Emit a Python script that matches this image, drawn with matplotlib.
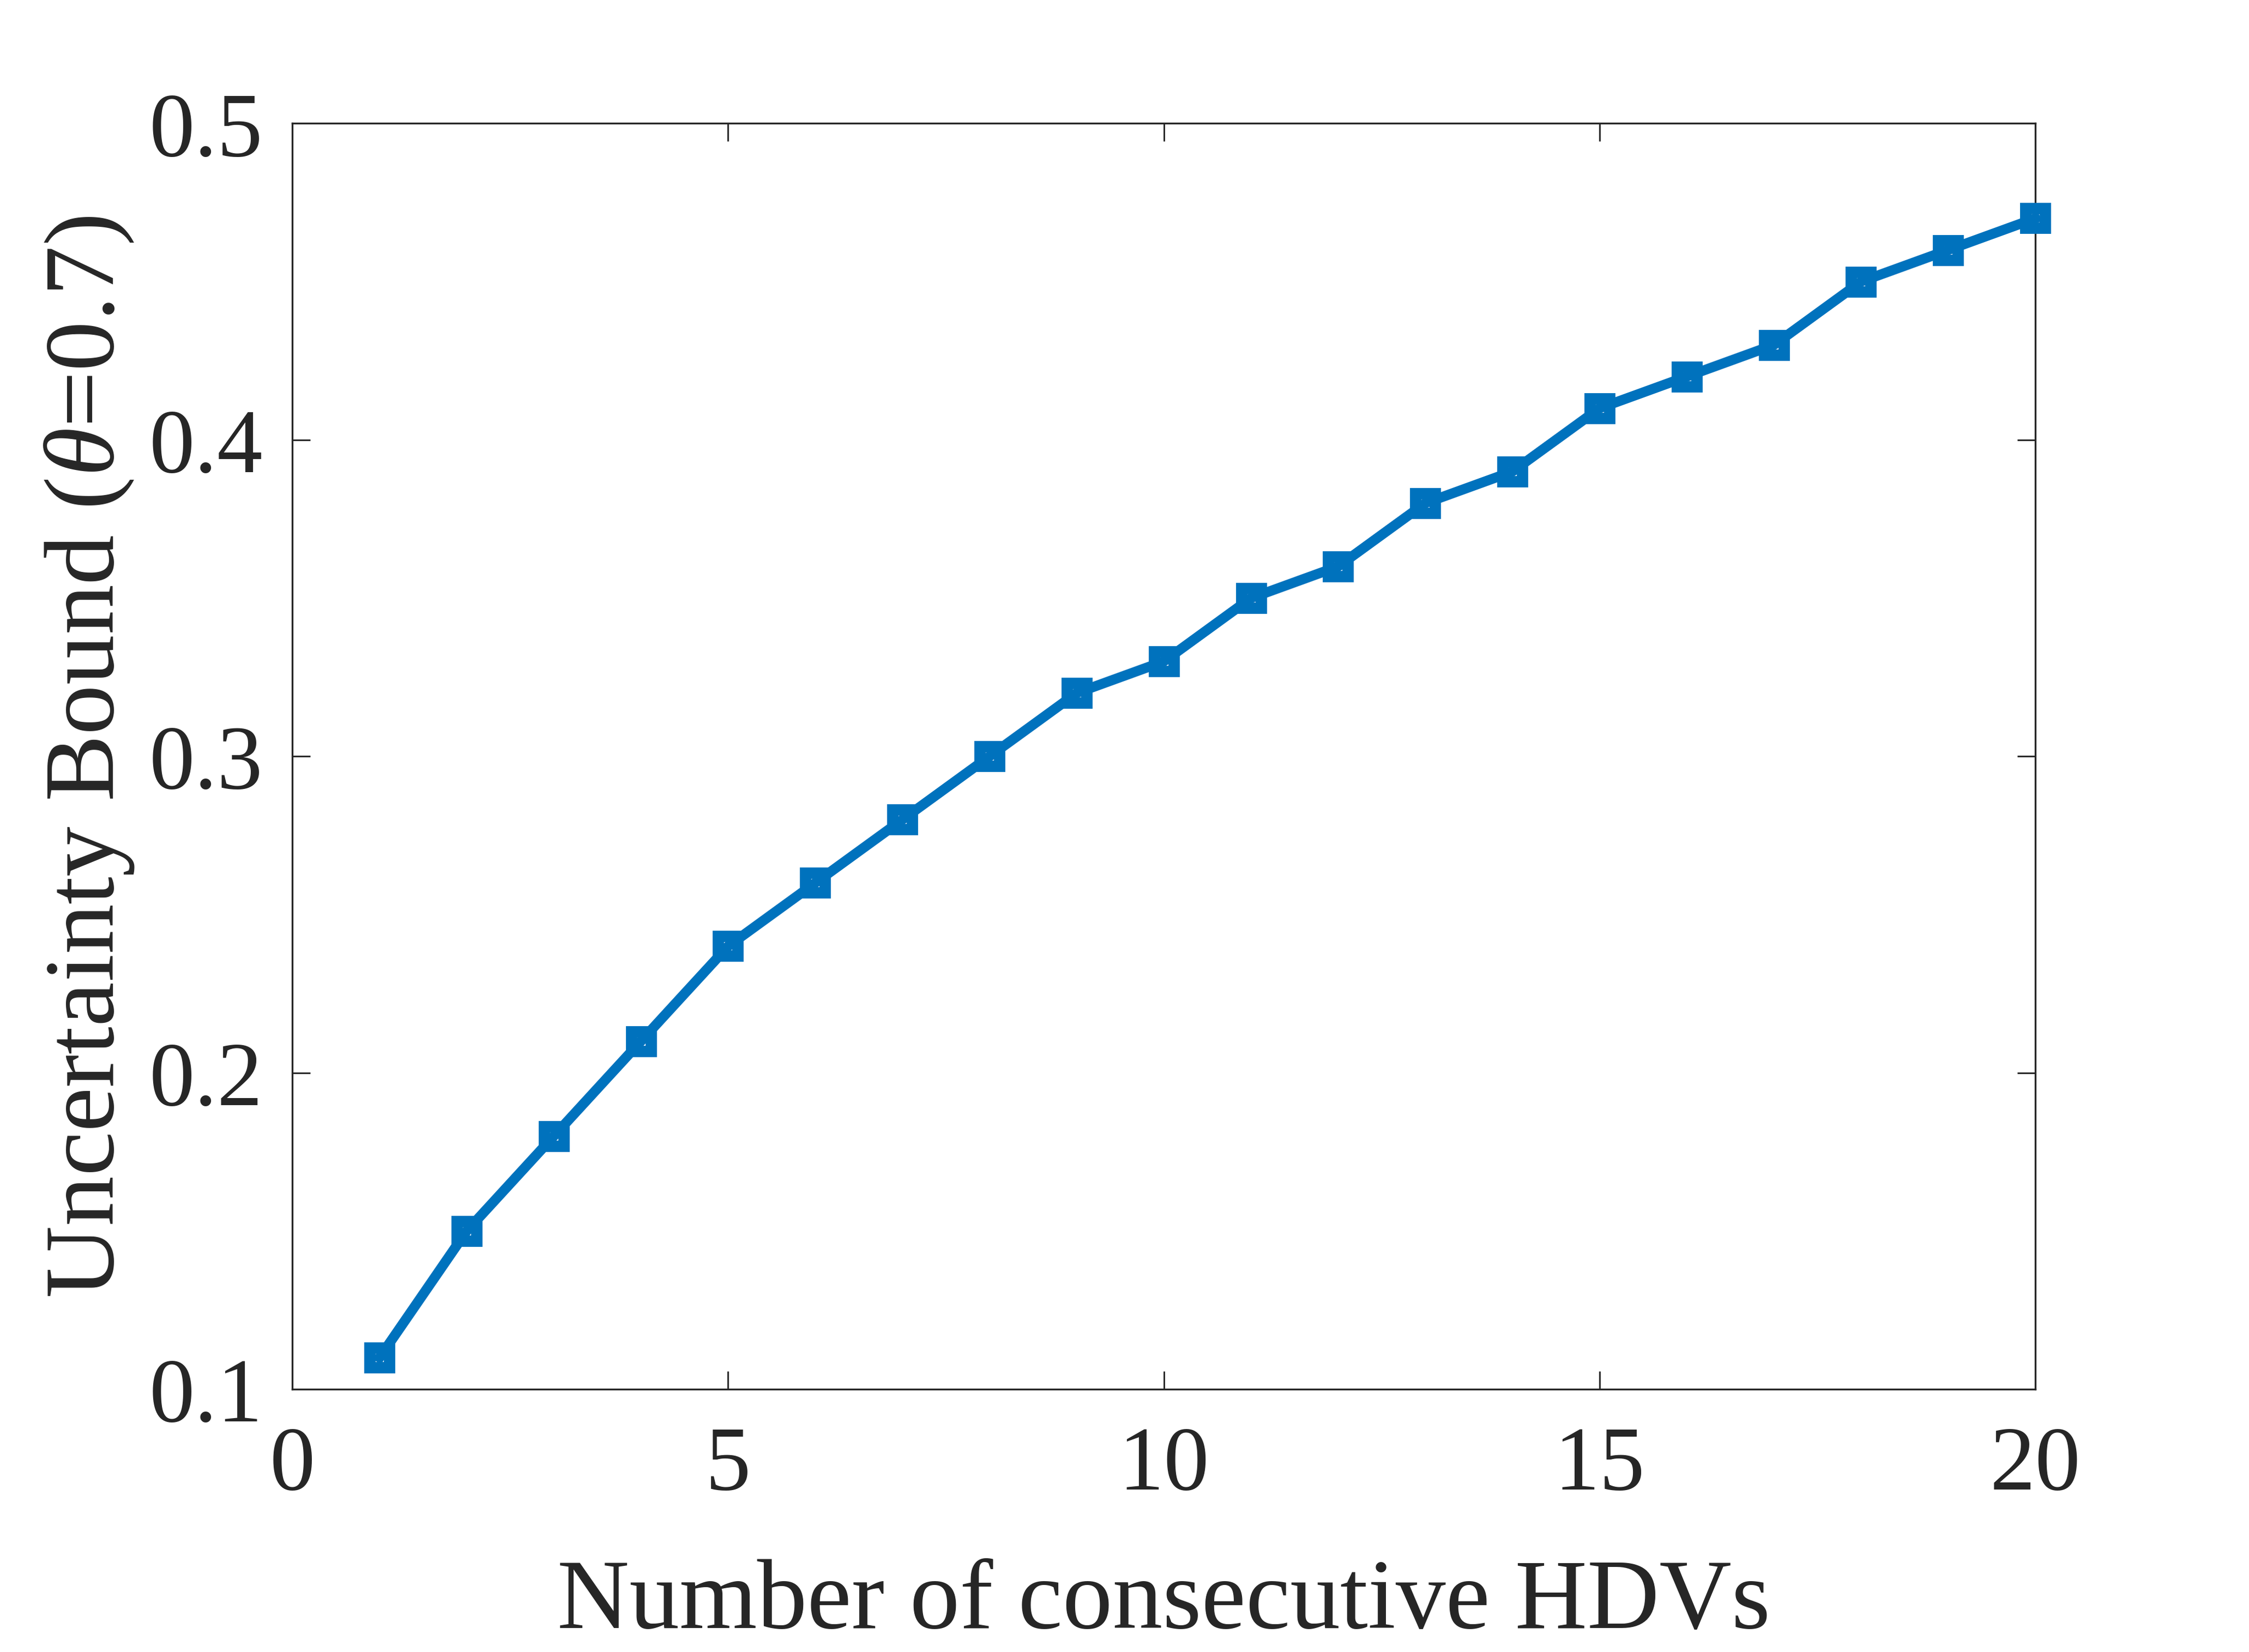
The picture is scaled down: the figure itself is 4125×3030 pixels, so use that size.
import matplotlib
matplotlib.use("Agg")
import matplotlib.pyplot as plt

# Données
n_hdv = list(range(1, 21))
bound = [0.11, 0.15, 0.18, 0.21, 0.24, 0.26, 0.28, 0.30, 0.32, 0.33,
         0.35, 0.36, 0.38, 0.39, 0.41, 0.42, 0.43, 0.45, 0.46, 0.47]
x_ticks = [0, 5, 10, 15, 20]
y_ticks = [0.1, 0.2, 0.3, 0.4, 0.5]

plt.rcParams["font.family"] = ["Liberation Serif", "DejaVu Serif"]
plt.rcParams["mathtext.fontset"] = "custom"
plt.rcParams["mathtext.rm"] = "Liberation Serif"
plt.rcParams["mathtext.it"] = "Liberation Serif:italic"

txt = "#262626"
fig = plt.figure(figsize=(13.75, 10.1033), dpi=300)
ax = fig.add_axes([0.130, 0.159, 0.775, 0.766])

ax.plot(n_hdv, bound, color="#0072BD", linewidth=4.4, marker="s",
        markersize=8.8, markeredgewidth=5.0, markerfacecolor="none",
        markeredgecolor="#0072BD", clip_on=False, zorder=3)

ax.set_xlim(0, 20)
ax.set_ylim(0.1, 0.5)
ax.set_xticks(x_ticks)
ax.set_yticks(y_ticks)
ax.set_xticklabels([str(v) for v in x_ticks])
ax.set_yticklabels([f"{v:.1f}" for v in y_ticks])

ax.tick_params(direction="in", length=8, width=0.7, colors=txt,
               labelsize=40, top=True, right=True)
ax.tick_params(axis="x", pad=16)
ax.tick_params(axis="y", pad=13)
for s in ax.spines.values():
    s.set_linewidth(0.8)
    s.set_color(txt)

ax.set_xlabel("Number of consecutive HDVs", fontsize=44, color=txt, labelpad=22)
ax.set_ylabel(r"Uncertainty Bound ($\it{\theta}$=0.7)", fontsize=44, color=txt,
              labelpad=6)

fig.savefig("out.png", dpi=300)
